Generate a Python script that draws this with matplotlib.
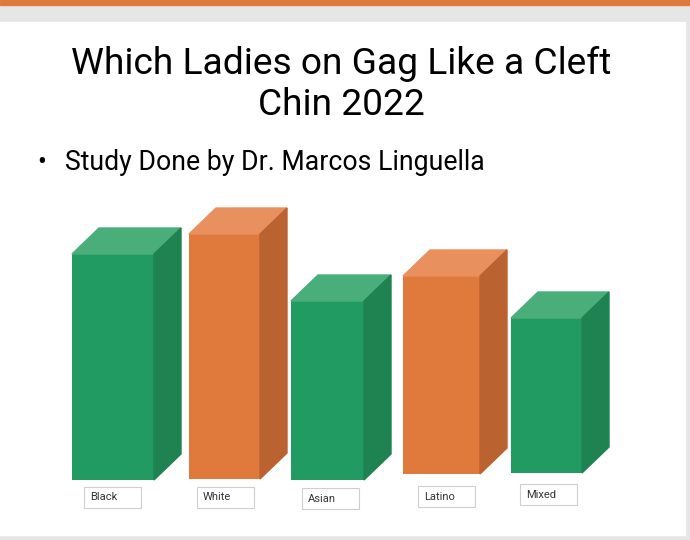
import matplotlib
matplotlib.use('Agg')
import matplotlib.pyplot as plt
from matplotlib.patches import Rectangle, Polygon

# data (in slide pixels)
categories = ['Black', 'White', 'Asian', 'Latino', 'Mixed']
values = [226, 245, 179, 198, 155]
bases = [480, 479, 480, 474, 473]
lefts = [72, 189, 291, 403, 511]
widths = [82, 71, 73, 77, 71]
kinds = ['g', 'o', 'g', 'o', 'g']

front = {'g': '#229b63', 'o': '#e07a3c'}
topc = {'g': '#4aae7b', 'o': '#e8915e'}
side = {'g': '#1f8251', 'o': '#bb6330'}
dx, dy = 27, 26

plt.rcParams['font.family'] = ['Roboto', 'DejaVu Sans']
fig = plt.figure(figsize=(6.9, 5.4), dpi=100)
ax = fig.add_axes([0, 0, 1, 1])
ax.set_xlim(0, 690)
ax.set_ylim(540, 0)
ax.axis('off')

# slide background
ax.add_patch(Rectangle((0, 0), 690, 540, color='#e6e6e6', zorder=0))
ax.add_patch(Rectangle((0, 0), 690, 5, color='#e07a3c', zorder=1))
ax.add_patch(Rectangle((0, 22), 685, 513, color='white', zorder=1))

ax.text(341, 64, 'Which Ladies on Gag Like a Cleft', ha='center', va='center', fontsize=26.7)
ax.text(341, 105, 'Chin 2022', ha='center', va='center', fontsize=26.7)
ax.text(37, 163, '\u2022', ha='left', va='center', fontsize=19)
ax.text(65, 162, 'Study Done by Dr. Marcos Linguella', ha='left', va='center', fontsize=19.2)

# 3d bars
for cat, v, b, x, w, k in zip(categories, values, bases, lefts, widths, kinds):
    top = b - v
    ax.bar(x, v, width=w, bottom=top, align='edge', color=front[k], zorder=3)
    ax.add_patch(Polygon([(x, top), (x + dx, top - dy), (x + w + dx, top - dy), (x + w, top)],
                         closed=True, color=topc[k], zorder=3))
    ax.add_patch(Polygon([(x + w, top), (x + w + dx, top - dy), (x + w + dx, b - dy), (x + w, b)],
                         closed=True, color=side[k], zorder=3))

# category label boxes
box_x = [84, 197, 302, 418, 520]
box_y = [487, 487, 488, 486, 484]
for cat, bx, by in zip(categories, box_x, box_y):
    ax.add_patch(Rectangle((bx, by), 57, 21, facecolor='white', edgecolor='#cfcfcf', lw=0.8, zorder=4))
    ax.text(bx + 6, by + 10.5, cat, ha='left', va='center', fontsize=8, color='#333333', zorder=5)

fig.savefig('out.png', dpi=100)
